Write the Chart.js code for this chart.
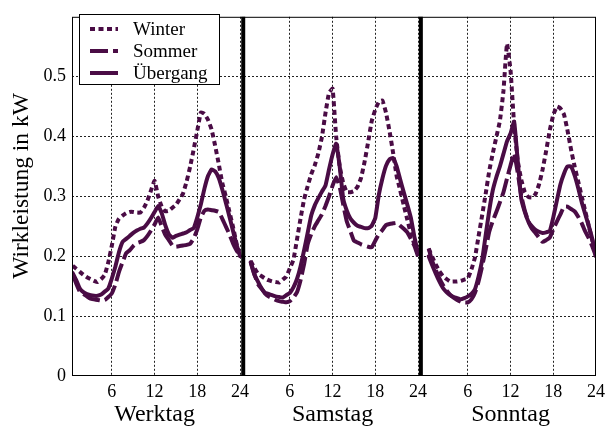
<!DOCTYPE html>
<html>
<head>
<meta charset="utf-8">
<script src="https://cdn.jsdelivr.net/npm/chart.js@4/dist/chart.umd.min.js"></script>
<style>
html,body{margin:0;padding:0;background:#fff;}
canvas{display:block;}
</style>
</head>
<body>
<canvas id="c" width="611" height="432"></canvas>
<script>
// ---- data ----
const hours = [0.5,1,1.5,2,2.5,3,3.5,4,4.5,5,5.5,6,6.5,7,7.5,8,8.5,9,9.5,10,10.5,11,11.5,12,12.5,13,13.5,14,14.5,15,15.5,16,16.5,17,17.5,18,18.5,19,19.5,20,20.5,21,21.5,22,22.5,23,23.5,24];
const panelNames = ['Werktag','Samstag','Sonntag'];
const seriesNames = ['Winter','Sommer','Übergang'];
const tickLabels = ['6','12','18','24'];
const tickHours = [6,12,18,24];
const yTickValues = [0,0.1,0.2,0.3,0.4,0.5];

const winterWerktag = [0.184,0.179,0.174,0.169,0.165,0.162,0.159,0.157,0.162,0.169,0.19,0.218,0.25,0.263,0.268,0.272,0.274,0.274,0.273,0.273,0.281,0.293,0.31,0.326,0.3,0.283,0.275,0.276,0.281,0.286,0.295,0.305,0.325,0.35,0.379,0.41,0.44,0.438,0.428,0.412,0.385,0.355,0.323,0.3,0.275,0.25,0.222,0.2];
const sommerWerktag = [0.17,0.154,0.141,0.137,0.133,0.129,0.128,0.127,0.126,0.127,0.132,0.138,0.153,0.174,0.19,0.205,0.21,0.217,0.222,0.224,0.227,0.234,0.243,0.253,0.265,0.25,0.236,0.227,0.218,0.216,0.217,0.218,0.219,0.221,0.23,0.245,0.265,0.276,0.278,0.277,0.276,0.274,0.263,0.25,0.237,0.222,0.21,0.2];
const uebergangWerktag = [0.172,0.16,0.146,0.14,0.137,0.135,0.134,0.134,0.136,0.141,0.146,0.163,0.183,0.207,0.224,0.229,0.234,0.239,0.243,0.246,0.248,0.255,0.264,0.274,0.284,0.272,0.252,0.237,0.231,0.234,0.236,0.238,0.24,0.244,0.247,0.265,0.287,0.313,0.334,0.345,0.342,0.331,0.312,0.29,0.267,0.243,0.22,0.2];

const winterSamstag = [0.192,0.181,0.171,0.167,0.163,0.16,0.158,0.157,0.156,0.161,0.166,0.18,0.194,0.228,0.263,0.295,0.317,0.337,0.352,0.372,0.399,0.439,0.473,0.48,0.4,0.35,0.322,0.307,0.307,0.309,0.316,0.331,0.358,0.391,0.426,0.445,0.458,0.46,0.44,0.409,0.373,0.334,0.31,0.285,0.261,0.238,0.22,0.203];
const sommerSamstag = [0.19,0.171,0.154,0.146,0.138,0.133,0.13,0.127,0.125,0.124,0.123,0.125,0.131,0.14,0.16,0.187,0.22,0.237,0.25,0.26,0.27,0.284,0.3,0.318,0.332,0.316,0.286,0.258,0.242,0.226,0.223,0.22,0.218,0.216,0.215,0.226,0.237,0.244,0.252,0.254,0.255,0.256,0.251,0.246,0.24,0.229,0.217,0.2];
const uebergangSamstag = [0.19,0.17,0.158,0.147,0.139,0.137,0.135,0.133,0.132,0.131,0.135,0.139,0.148,0.162,0.183,0.21,0.239,0.268,0.285,0.297,0.308,0.318,0.345,0.37,0.388,0.35,0.296,0.276,0.263,0.256,0.251,0.249,0.247,0.247,0.251,0.264,0.303,0.33,0.351,0.362,0.364,0.35,0.328,0.307,0.286,0.264,0.232,0.205];

const winterSonntag = [0.213,0.199,0.186,0.175,0.167,0.162,0.158,0.158,0.158,0.159,0.161,0.163,0.178,0.198,0.233,0.268,0.304,0.342,0.372,0.399,0.426,0.476,0.555,0.51,0.42,0.36,0.328,0.307,0.299,0.298,0.304,0.32,0.345,0.376,0.41,0.436,0.45,0.447,0.437,0.41,0.378,0.35,0.325,0.3,0.275,0.25,0.225,0.2];
const sommerSonntag = [0.213,0.192,0.177,0.163,0.152,0.143,0.136,0.131,0.127,0.124,0.123,0.123,0.128,0.139,0.158,0.183,0.211,0.241,0.259,0.274,0.29,0.307,0.33,0.352,0.372,0.34,0.301,0.276,0.258,0.246,0.239,0.231,0.224,0.227,0.231,0.245,0.258,0.27,0.283,0.283,0.279,0.275,0.266,0.255,0.241,0.23,0.216,0.2];
const uebergangSonntag = [0.2,0.185,0.171,0.158,0.147,0.14,0.135,0.132,0.13,0.128,0.13,0.133,0.137,0.145,0.166,0.193,0.235,0.276,0.31,0.332,0.35,0.371,0.392,0.405,0.425,0.36,0.296,0.274,0.258,0.25,0.244,0.241,0.239,0.24,0.242,0.265,0.293,0.32,0.338,0.35,0.35,0.335,0.314,0.29,0.27,0.25,0.228,0.2];

const seriesByPanel = [
  [winterWerktag, winterSamstag, winterSonntag],
  [sommerWerktag, sommerSamstag, sommerSonntag],
  [uebergangWerktag, uebergangSamstag, uebergangSonntag]
];

// ---- layout constants (not data) ----
const PANEL_SPAN = 25;          // x-units per panel on the shared axis
const DIVIDER_AT = [24.45, 49.4];
const COLOR = '#4a0c45';
const FONT = '"Liberation Serif", "Times New Roman", serif';

function buildSeries(panels) {
  const pts = [];
  panels.forEach((vals, p) => {
    hours.forEach((h, i) => pts.push({x: h + PANEL_SPAN * p, y: vals[i]}));
    pts.push({x: PANEL_SPAN * p + 24.5, y: null});
  });
  return pts;
}

const styles = [
  {borderDash: [5, 3.5], borderCapStyle: 'butt'},
  {borderDash: [18, 5], borderCapStyle: 'butt'},
  {borderDash: [], borderCapStyle: 'round'}
];

const datasets = seriesNames.map((name, s) => Object.assign({
  label: name,
  data: buildSeries(seriesByPanel[s]),
  borderColor: COLOR,
  backgroundColor: COLOR,
  borderWidth: 4,
  pointRadius: 0,
  tension: 0.12,
  spanGaps: false,
  borderJoinStyle: 'round',
  fill: false
}, styles[s]));

const xTickPositions = [];
panelNames.forEach((_, p) => tickHours.forEach(h => xTickPositions.push(h + PANEL_SPAN * p)));

const deco = {
  id: 'deco',
  afterDraw(chart) {
    const {ctx, chartArea: a, scales: {x}} = chart;
    ctx.save();
    ctx.setLineDash([]);
    ctx.strokeStyle = '#000';
    ctx.lineWidth = 1;
    ctx.strokeRect(a.left + 0.5, a.top + 0.5, a.right - a.left - 1, a.bottom - a.top - 1);
    ctx.lineWidth = 4;
    DIVIDER_AT.forEach(d => {
      const px = x.getPixelForValue(d);
      ctx.beginPath(); ctx.moveTo(px, a.top); ctx.lineTo(px, a.bottom); ctx.stroke();
    });
    ctx.fillStyle = '#000';
    ctx.font = '24px ' + FONT;
    ctx.textAlign = 'center';
    ctx.textBaseline = 'alphabetic';
    panelNames.forEach((n, p) => ctx.fillText(n, x.getPixelForValue(PANEL_SPAN * p + 12), 421));
    ctx.save();
    ctx.font = '23.5px ' + FONT;
    ctx.translate(27.5, 186);
    ctx.rotate(-Math.PI / 2);
    ctx.fillText('Wirkleistung in kW', 0, 0);
    ctx.restore();
    // legend
    const lx = 79, ly = 14, lw = 141, lh = 71;
    ctx.fillStyle = '#fff';
    ctx.fillRect(lx, ly, lw, lh);
    ctx.lineWidth = 1;
    ctx.strokeStyle = '#000';
    ctx.strokeRect(lx + 0.5, ly + 0.5, lw - 1, lh - 1);
    ctx.font = '19px ' + FONT;
    ctx.textAlign = 'left';
    chart.data.datasets.forEach((ds, i) => {
      const base = 35 + i * 22;
      const yy = base - 6;
      ctx.strokeStyle = ds.borderColor;
      ctx.lineWidth = ds.borderWidth;
      ctx.lineCap = 'butt';
      ctx.setLineDash(ds.borderDash);
      ctx.beginPath(); ctx.moveTo(90, yy); ctx.lineTo(118, yy); ctx.stroke();
      ctx.setLineDash([]);
      ctx.fillStyle = '#000';
      ctx.fillText(ds.label, 133, base);
    });
    ctx.restore();
  }
};

const gridColor = (hideFn) => (c) => (c.tick && hideFn(c.tick.value)) ? 'rgba(0,0,0,0)' : '#222';

new Chart(document.getElementById('c'), {
  type: 'line',
  data: {datasets},
  options: {
    responsive: false,
    animation: false,
    devicePixelRatio: 1,
    layout: {padding: {left: 0, right: 15, top: 6, bottom: 0}},
    plugins: {legend: {display: false}, tooltip: {enabled: false}},
    scales: {
      x: {
        type: 'linear',
        min: 0.4,
        max: 74,
        afterBuildTicks: s => { s.ticks = xTickPositions.map(v => ({value: v})); },
        afterFit: s => { s.height = 56; },
        ticks: {
          autoSkip: false, maxRotation: 0,
          callback: (v, i) => tickLabels[i % tickLabels.length],
          font: {family: FONT, size: 18}, color: '#000', padding: 5
        },
        grid: {color: gridColor(v => v > 73.9), lineWidth: 1, drawTicks: false},
        border: {display: false, dash: [2, 2]}
      },
      y: {
        min: 0,
        max: 0.6,
        afterBuildTicks: s => { s.ticks = yTickValues.map(v => ({value: v})); },
        afterFit: s => { s.width = 72; },
        ticks: {
          callback: v => v === 0 ? '0' : v.toFixed(1),
          font: {family: FONT, size: 18}, color: '#000', padding: 6
        },
        grid: {color: gridColor(v => v < 0.001), lineWidth: 1, drawTicks: false},
        border: {display: false, dash: [2, 2]}
      }
    }
  },
  plugins: [deco]
});
</script>
</body>
</html>
